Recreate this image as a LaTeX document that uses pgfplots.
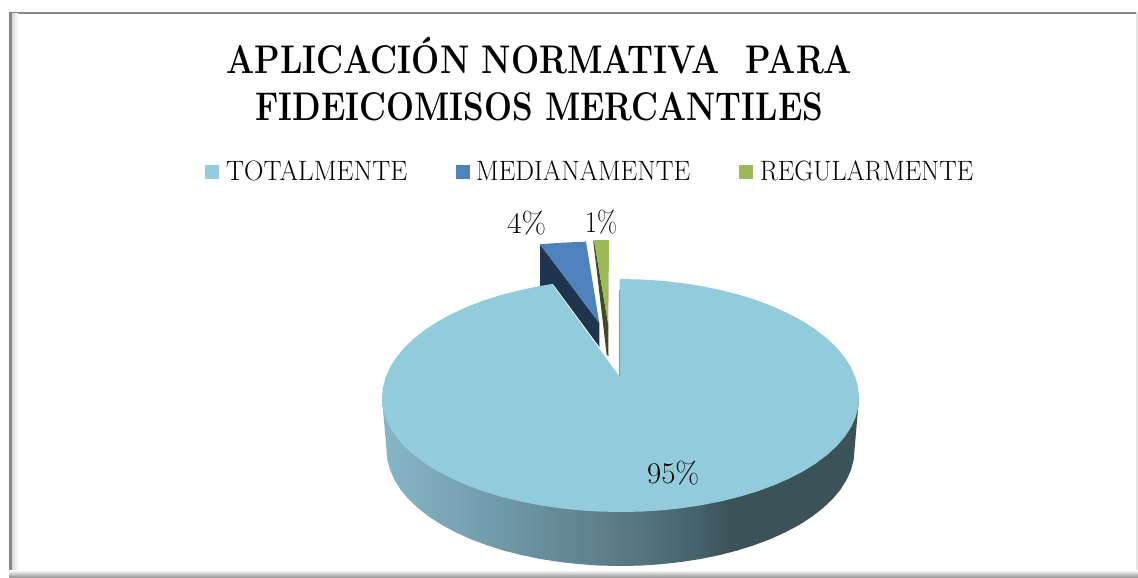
\documentclass[border=0pt]{standalone}
\usepackage{pgfplots}
\pgfplotsset{compat=1.18}
\definecolor{pieTop}{HTML}{92CBDC}
\definecolor{blueTop}{HTML}{4F81BD}
\definecolor{blueDark}{HTML}{1F344F}
\definecolor{greenTop}{HTML}{9BBB59}
\definecolor{greenDark}{HTML}{3F4A26}
\definecolor{innerEdge}{HTML}{7C9AA5}
\pgfdeclarehorizontalshading{sideshade}{100bp}{
 rgb(0bp)=(0.53,0.72,0.78);
 rgb(25.8bp)=(0.52,0.71,0.77);
 rgb(37.4bp)=(0.44,0.60,0.66);
 rgb(50bp)=(0.35,0.48,0.52);
 rgb(58.3bp)=(0.27,0.38,0.42);
 rgb(61.5bp)=(0.23,0.32,0.35);
 rgb(100bp)=(0.23,0.32,0.35)}
\newcommand{\titlefont}{\fontsize{40}{40}\selectfont\bfseries}
\newcommand{\legfont}{\fontsize{28}{28}\selectfont}
\newcommand{\labfont}{\fontsize{30}{30}\selectfont}
\begin{document}
\begin{tikzpicture}
\begin{axis}[
  scale only axis, width=1138pt, height=578pt,
  xmin=0, xmax=1138, ymin=0, ymax=578, y dir=reverse,
  axis lines=none, clip=true]
% background and frame
\addplot[draw=none, fill=white] coordinates {(0,0)(1138,0)(1138,578)(0,578)} --cycle;
\addplot[draw=none, fill=black!47] coordinates {(9,12)(1136,12)(1136,14)(9,14)} --cycle;
\addplot[draw=none, fill=black!47] coordinates {(9,12)(12,12)(12,572)(9,572)} --cycle;
\addplot[draw=none, left color=black!15, right color=white] coordinates {(12,14)(18,14)(18,570)(12,570)} --cycle;
\addplot[draw=none, fill=black!10] coordinates {(1136,12)(1138,12)(1138,572)(1136,572)} --cycle;
\addplot[draw=none, top color=white, bottom color=black!45] coordinates {(9,570)(1138,570)(1138,578)(9,578)} --cycle;
% blue slice (4 %)
\addplot[draw=none, fill=blueDark] coordinates {(540,244.3)(599.3,323)(599.5,347)(553,284)(540,287)} --cycle;
\addplot[draw=none, fill=blueTop] coordinates {(540,244.3)(552,243.4)(565,242.6)(575,242.1)(586,241.7)(599.3,323)} --cycle;
% green slice (1 %)
\addplot[draw=none, fill=greenDark] coordinates {(593.3,241.7)(594,240)(608.3,325)(608.5,356)(606.7,355)} --cycle;
\addplot[draw=none, fill=greenTop] coordinates {(594,240)(609,240)(608.3,325)} --cycle;
% side wall of the big slice
\addplot[draw=none, shading=sideshade] coordinates {
 (382,398)(386.5,450)(387.4,460.1)(390.1,470.1)(394.5,480)(400.6,489.7)(408.4,499)(417.9,508)(428.8,516.5)
 (441.2,524.6)(455,532)(470.1,538.9)(486.3,545)(503.5,550.5)(521.6,555.1)(540.5,559)(559.9,562)(579.9,564.2)
 (600.1,565.6)(620.5,566)(640.9,565.6)(661.1,564.2)(681.1,562)(700.5,559)(719.4,555.1)(737.5,550.5)(754.7,545)
 (770.9,538.9)(786,532)(799.8,524.6)(812.2,516.5)(823.1,508)(832.6,499)(840.4,489.7)(846.5,480)(850.9,470.1)
 (853.6,460.1)(854.5,450)(859,398)} --cycle;
% top of the big slice (95 %)
\addplot[draw=none, fill=pieTop] coordinates {
 (619.5,279)(641.3,279.5)(661.9,280.8)(682.2,283.1)(702.1,286.2)(721.3,290.2)(739.8,294.9)(757.3,300.5)(773.8,306.8)
 (789.1,313.9)(803.2,321.5)(815.9,329.7)(827,338.5)(836.7,347.7)(844.6,357.3)(850.9,367.2)(855.4,377.3)(858.1,387.6)
 (859,398)(858.1,407.9)(855.4,417.8)(850.9,427.5)(844.6,437)(836.7,446.2)(827,455)(815.9,463.4)(803.2,471.3)
 (789.1,478.6)(773.8,485.3)(757.3,491.4)(739.8,496.7)(721.3,501.3)(702.1,505.1)(682.2,508.1)(661.9,510.3)(641.3,511.6)
 (620.5,512)(599.7,511.6)(579.1,510.3)(558.8,508.1)(538.9,505.1)(519.7,501.3)(501.2,496.7)(483.7,491.4)(467.2,485.3)
 (451.9,478.6)(437.8,471.3)(425.1,463.4)(414,455)(404.3,446.2)(396.4,437)(390.1,427.5)(385.6,417.8)(382.9,407.9)
 (382,398)(382.9,387.6)(385.6,377.3)(390.1,367.2)(396.4,357.3)(404.3,347.7)(414,338.5)(425.1,329.7)(437.8,321.5)
 (451.9,313.9)(467.2,306.8)(483.7,300.5)(501.2,294.9)(519.7,290.2)(538.9,286.2)(552,284)(619.5,376.5)} --cycle;
\addplot[line width=0.8pt, color=innerEdge] coordinates {(619.5,290)(619.5,376)};
% legend squares
\addplot[draw=none, fill=pieTop] coordinates {(205,165)(219,165)(219,179)(205,179)} --cycle;
\addplot[draw=none, fill=blueTop] coordinates {(456,165)(470,165)(470,179)(456,179)} --cycle;
\addplot[draw=none, fill=greenTop] coordinates {(739,165)(752.5,165)(752.5,179)(739,179)} --cycle;
% title
\node[anchor=base west, inner sep=0pt] at (axis cs:226,74) {\resizebox{626pt}{\height}{\titlefont APLICACIÓN NORMATIVA\ \ PARA}};
\node[anchor=base west, inner sep=0pt] at (axis cs:255,120) {\resizebox{568pt}{\height}{\titlefont FIDEICOMISOS MERCANTILES}};
% legend text
\node[anchor=base west, inner sep=0pt] at (axis cs:226,180) {\resizebox{181pt}{\height}{\legfont TOTALMENTE}};
\node[anchor=base west, inner sep=0pt] at (axis cs:476,180) {\resizebox{214pt}{\height}{\legfont MEDIANAMENTE}};
\node[anchor=base west, inner sep=0pt] at (axis cs:760,180) {\resizebox{213pt}{\height}{\legfont REGULARMENTE}};
% data labels
\node[anchor=base west, inner sep=0pt] at (axis cs:507,233) {\resizebox{39pt}{\height}{\labfont 4\%}};
\node[anchor=base west, inner sep=0pt] at (axis cs:585,232) {\resizebox{32pt}{\height}{\labfont 1\%}};
\node[anchor=base west, inner sep=0pt] at (axis cs:647,483) {\resizebox{52pt}{\height}{\labfont 95\%}};
\end{axis}
\end{tikzpicture}
\end{document}
